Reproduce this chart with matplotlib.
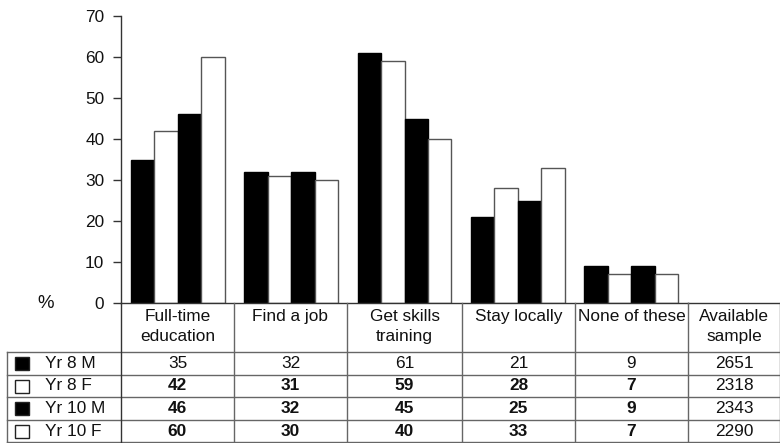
import matplotlib
matplotlib.use("Agg")
import matplotlib.pyplot as plt
from matplotlib.lines import Line2D
from matplotlib.patches import Rectangle

plt.rcParams['font.family'] = ['Liberation Sans', 'DejaVu Sans']

# ---------------- data ----------------
categories = ["Full-time\neducation", "Find a job", "Get skills\ntraining",
              "Stay locally", "None of these"]
series_names = ["Yr 8 M", "Yr 8 F", "Yr 10 M", "Yr 10 F"]
yr8_m = [35, 32, 61, 21, 9]
yr8_f = [42, 31, 59, 28, 7]
yr10_m = [46, 32, 45, 25, 9]
yr10_f = [60, 30, 40, 33, 7]
samples = [2651, 2318, 2343, 2290]
sample_header = "Available\nsample"
y_ticks = [0, 10, 20, 30, 40, 50, 60, 70]

series = [yr8_m, yr8_f, yr10_m, yr10_f]
fills = ["black", "white", "black", "white"]
edges = ["black", "#555555", "black", "#555555"]

# ---------------- layout ----------------
W, H, DPI = 780, 443, 100
fig = plt.figure(figsize=(W / DPI, H / DPI), dpi=DPI)
FS = 12.4
TXT = "#111111"
GRID = "#666666"

def fx(px):
    return px / W

def fy(py):
    return 1 - py / H

ax_left, ax_right, ax_top, ax_bottom = 121, 688, 16, 303
ax = fig.add_axes([fx(ax_left), fy(ax_bottom), (ax_right - ax_left) / W,
                   (ax_bottom - ax_top) / H])
ax.set_xlim(-0.5, len(categories) - 0.5)
ax.set_ylim(0, 70)

bw = 0.207
offsets = [-1.5, -0.5, 0.5, 1.5]
xs = list(range(len(categories)))
for vals, off, fc, ec in zip(series, offsets, fills, edges):
    ax.bar([x + off * bw for x in xs], vals, width=bw, color=fc,
           edgecolor=ec, linewidth=1.0, zorder=2)

ax.set_yticks(y_ticks)
ax.set_yticklabels([str(t) for t in y_ticks], fontsize=FS, color=TXT)
ax.tick_params(axis='y', direction='out', length=6, width=1.0,
               color="#333333", pad=6)
ax.set_xticks([])
for s in ["top", "right"]:
    ax.spines[s].set_visible(False)
ax.spines["left"].set_color("#333333")
ax.spines["bottom"].set_color("#333333")
ax.spines["left"].set_linewidth(1.0)
ax.spines["bottom"].set_linewidth(1.0)

fig.text(fx(46), fy(303), "%", fontsize=FS + 1, color=TXT,
         ha='center', va='center')

# ---------------- table ----------------
col_edges = [121, 234, 347, 462, 575, 688, 780]
label_left = 7
row_edges = [303, 352, 375, 397, 420, 442]

def hline(x0, x1, y, color=GRID):
    fig.add_artist(Line2D([fx(x0), fx(x1)], [fy(y), fy(y)],
                          color=color, linewidth=1.0))

def vline(x, y0, y1, color=GRID):
    fig.add_artist(Line2D([fx(x), fx(x)], [fy(y0), fy(y1)],
                          color=color, linewidth=1.0))

hline(ax_right, 779.5, row_edges[0], color="#333333")
for y in row_edges[1:]:
    hline(label_left, 779.5, y)
vline(label_left, row_edges[1], row_edges[-1])
vline(col_edges[0], row_edges[0], row_edges[-1], color="#333333")
for x in col_edges[1:-1]:
    vline(x, row_edges[0], row_edges[-1])
vline(779.5, row_edges[0], row_edges[-1])

headers = categories + [sample_header]
for i, h in enumerate(headers):
    cx = (col_edges[i] + col_edges[i + 1]) / 2
    fig.text(fx(cx), fy(309), h, fontsize=FS, color=TXT, ha='center',
             va='top', linespacing=1.45)

for r, name in enumerate(series_names):
    cy = (row_edges[r + 1] + row_edges[r + 2]) / 2
    fig.add_artist(Rectangle((fx(15), fy(cy + 6.5)), 14 / W, 13 / H,
                             facecolor=fills[r], edgecolor="#222222",
                             linewidth=1.0, transform=fig.transFigure))
    fig.text(fx(45), fy(cy), name, fontsize=FS, color=TXT, ha='left',
             va='center')
    for c, v in enumerate(series[r]):
        cx = (col_edges[c] + col_edges[c + 1]) / 2
        fig.text(fx(cx), fy(cy), str(v), fontsize=FS, color=TXT,
                 ha='center', va='center',
                 weight='bold' if r > 0 else 'normal')
    cx = (col_edges[-2] + col_edges[-1]) / 2
    fig.text(fx(cx), fy(cy), str(samples[r]), fontsize=FS, color=TXT,
             ha='center', va='center')

fig.savefig("out.png", dpi=DPI)
